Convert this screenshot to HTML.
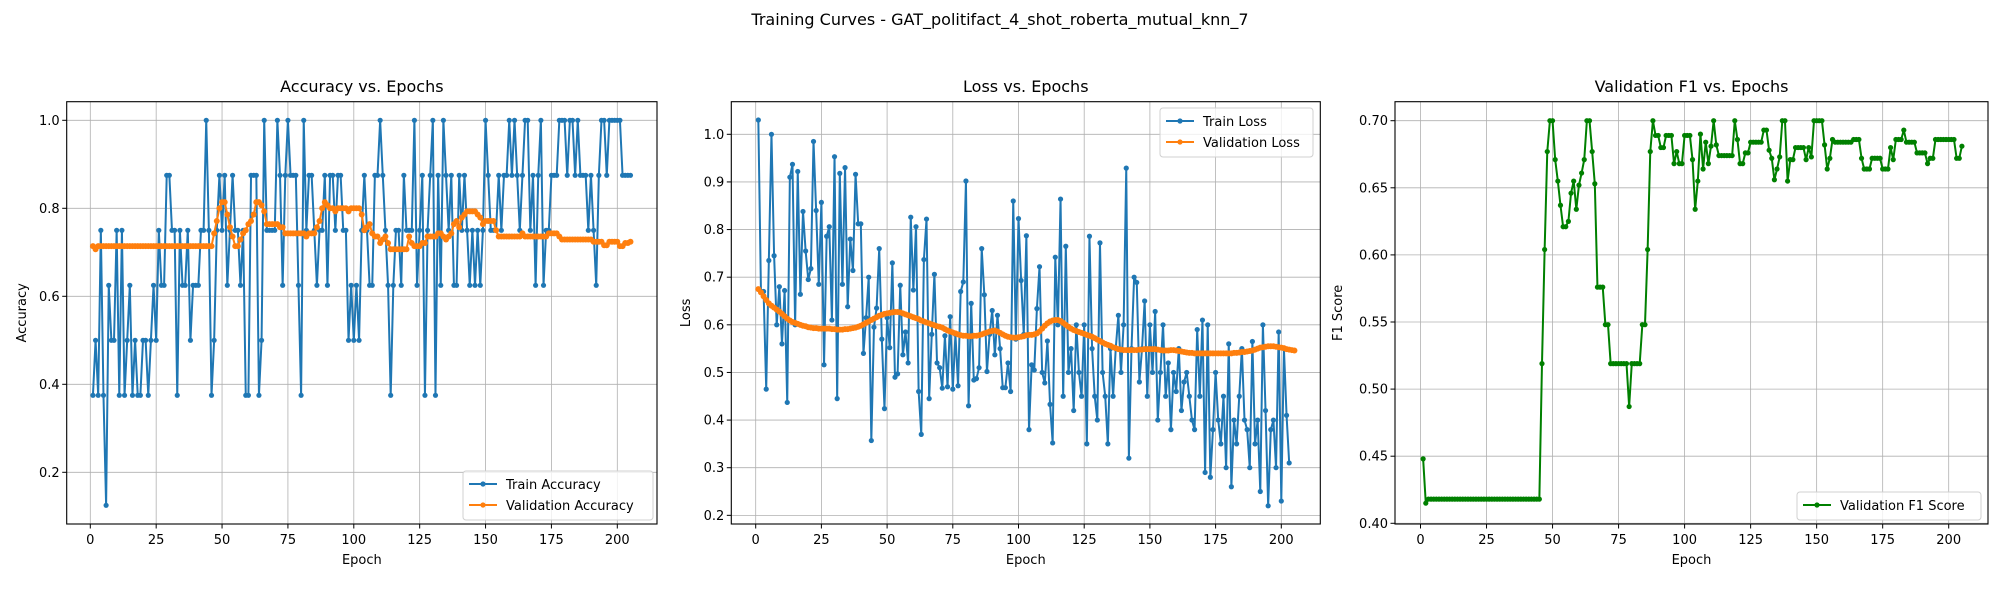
<!DOCTYPE html>
<html><head><meta charset="utf-8"><style>
html,body{margin:0;padding:0;background:#fff;}
svg{display:block;font-family:"DejaVu Sans","Liberation Sans",sans-serif;}
</style></head><body>
<svg id="fig" width="2000" height="600" viewBox="0 0 2000 600" xmlns="http://www.w3.org/2000/svg">
<rect width="2000" height="600" fill="#fff"/>
<text x="1000" y="25" font-size="16" text-anchor="middle">Training Curves - GAT_politifact_4_shot_roberta_mutual_knn_7</text>
</svg>
<script>
const trainAcc=[.375,.5,.375,.75,.375,.125,.625,.5,.5,.75,.375,.75,.375,.5,.625,.375,.5,.375,.375,.5,.5,.375,.5,.625,.5,.75,.625,.625,.875,.875,.75,.75,.375,.75,.625,.625,.75,.5,.625,.625,.625,.75,.75,1.0,.75,.375,
.5,.75,.875,.75,.875,.625,.75,.875,.75,.75,.625,.75,.375,.375,.875,.875,.875,.375,.5,1.0,.75,.75,.75,.75,1.0,.875,.625,.875,1.0,.875,.875,.875,.625,.375,1.0,.75,.875,.875,.75,.625,.75,.75,.875,.625,.875,.875,.75,.875,.875,.75,.75,.5,.625,.5,.625,.5,
.75,.875,.75,.625,.625,.875,.875,1.0,.875,.75,.625,.375,.625,.75,.75,.625,.875,.75,.75,.75,1.0,.625,.75,.875,.375,.75,.875,1.0,.375,.875,.625,1.0,.875,.75,.875,.625,.625,.875,.75,.875,.75,.625,.75,.625,.75,.625,.75,1.0,.875,.75,.75,.75,.875,.75,.875,.875,1.0,.875,1.0,.875,.75,.875,1.0,1.0,.75,.875,.625,.875,1.0,.625,.75,.75,.875,.875,.875,1.0,1.0,1.0,.875,1.0,1.0,.875,1.0,.875,.875,.875,.75,.875,.75,.625,.875,1.0,1.0,.875,1.0,1.0,1.0,1.0,1.0,.875,.875,.875,.875];
const valAcc=[.714,.707,.714,.714,.714,.714,.714,.714,.714,.714,.714,.714,.714,.714,.714,.714,.714,.714,.714,.714,.714,.714,.714,.714,.714,.714,.714,.714,.714,.714,.714,.714,.714,.714,.714,.714,.714,.714,.714,.714,.714,.714,.714,.714,.714,.714,
.743,.771,.80,.814,.814,.786,.757,.736,.714,.714,.729,.743,.75,.764,.771,.786,.814,.814,.807,.793,.764,.764,.764,.764,.764,.757,.757,.743,.743,.743,.743,.743,.743,.743,.743,.736,.743,.743,.743,.757,.771,.80,.814,.807,.80,.80,.793,.80,.80,.80,.80,.793,.80,.80,.80,.80,
.786,.75,.757,.764,.743,.736,.736,.721,.729,.736,.721,.707,.707,.707,.707,.707,.707,.707,.736,.721,.714,.714,.714,.721,.721,.736,.736,.736,.736,.743,.743,.736,.729,.736,.743,.764,.771,.757,.779,.786,.793,.793,.793,.793,.786,.779,.764,.771,.771,.771,.771,.75,.736,.736,.736,.736,.736,.736,.736,.736,.736,.743,.736,.736,.736,.736,.736,.736,.736,.736,.736,.743,.743,.743,.743,.736,.729,.729,.729,.729,.729,.729,.729,.729,.729,.729,.729,.729,.724,.724,.724,.724,.716,.716,.724,.724,.724,.724,.714,.714,.721,.721,.724];
const trainLoss=[1.03,.67,.67,.465,.735,1.0,.745,.60,.68,.56,.672,.437,.91,.937,.60,.922,.664,.838,.755,.695,.718,.985,.84,.685,.857,.516,.786,.806,.61,.953,.445,.918,.685,.93,.638,.78,.714,.916,.812,.812,
.54,.615,.70,.357,.595,.635,.76,.57,.424,.615,.552,.73,.49,.497,.683,.537,.585,.52,.826,.673,.806,.46,.37,.737,.822,.445,.58,.706,.52,.51,.467,.577,.47,.617,.465,.58,.472,.67,.69,.902,
.43,.645,.484,.487,.51,.76,.663,.502,.58,.63,.537,.62,.55,.468,.468,.52,.46,.86,.57,.823,.693,.58,.787,.38,.516,.505,.634,.722,.50,.478,.566,.433,.352,.742,
.60,.864,.45,.765,.50,.55,.42,.60,.50,.45,.60,.35,.786,.55,.45,.40,.772,.50,.45,.35,.55,.45,.55,.62,.50,.60,.929,.32,.55,.70,.689,.48,.55,.65,.45,.60,.50,.628,.40,.50,.60,.45,.52,.38,.50,.46,.55,.42,.48,.50,.45,.40,.38,.59,.45,.61,.29,.60,.28,.38,.50,.40,.35,.45,.30,.56,.26,.40,.35,.45,.55,.40,.38,.30,.565,.35,.40,.25,.60,.42,.22,.38,.40,.30,.585,.23,.55,.41,.31];
const valLoss=[.675,.668,.660,.652,.645,.640,.636,.632,.628,.623,.618,.613,.609,.606,.604,.602,.600,.598,.597,.595,.594,.593,.593,.592,.592,.592,.592,.592,.591,.591,.590,.590,.590,.591,.591,.592,.593,.594,.596,.598,
.601,.604,.607,.610,.613,.616,.619,.621,.623,.624,.625,.626,.627,.627,.626,.624,.622,.620,.618,.616,.614,.612,.609,.607,.605,.603,.601,.599,.597,.596,.594,.591,.588,.586,.584,.582,.580,.578,.577,.577,
.576,.576,.577,.577,.578,.580,.582,.584,.586,.587,.588,.586,.583,.580,.577,.575,.574,.573,.573,.574,.575,.576,.578,.579,.579,.580,.582,.586,.592,.598,.603,.607,.609,.610,.610,.608,.604,.600,.596,.592,
.589,.587,.585,.583,.581,.579,.577,.575,.572,.569,.566,.563,.560,.558,.556,.553,.551,.549,.548,.547,.547,.547,.547,.547,.547,.548,.548,.549,.549,.549,.549,.549,.548,.547,.546,.546,.546,.547,.547,.546,
.545,.544,.543,.542,.541,.541,.540,.540,.540,.540,.540,.540,.540,.540,.540,.540,.540,.540,.540,.540,.540,.541,.541,.542,.543,.543,.544,.545,.546,.548,.550,.552,.553,.554,.555,.555,.555,.554,.553,.552,.551,.549,.548,.547,.546];
const valF1=[.448,.415,.418,.418,.418,.418,.418,.418,.418,.418,.418,.418,.418,.418,.418,.418,.418,.418,.418,.418,.418,.418,.418,.418,.418,.418,.418,.418,.418,.418,.418,.418,.418,.418,.418,.418,.418,.418,.418,.418,.418,.418,.418,.418,.418,
.519,.604,.677,.70,.70,.671,.655,.637,.621,.621,.625,.646,.655,.634,.652,.661,.671,.70,.70,.677,.653,.576,.576,.576,.548,.548,.519,.519,.519,.519,.519,.519,.519,.487,.519,.519,.519,.519,.548,.548,.604,.677,.70,.689,.689,.68,.68,.689,.689,.689,.668,.677,.668,.668,.689,.689,.689,.671,.634,.655,.69,.664,.684,.668,.681,.70,.682,.674,.674,.674,.674,.674,.674,.70,.686,.668,.668,.676,.676,.684,.684,.684,.684,.684,.693,.693,.678,.672,.656,.664,.673,.70,.70,.655,.671,.671,.68,.68,.68,.68,.671,.68,.673,.70,.70,.70,.70,.682,.664,.672,.686,.684,.684,.684,.684,.684,.684,.684,.686,.686,.686,.672,.664,.664,.664,.672,.672,.672,.672,.664,.664,.664,.68,.671,.686,.686,.686,.693,.684,.684,.684,.684,.676,.676,.676,.676,.668,.672,.672,.686,.686,.686,.686,.686,.686,.686,.686,.672,.672,.681];
const accTicks=[0.2,0.4,0.6,0.8,1.0];
const lossTicks=[0.2,0.3,0.4,0.5,0.6,0.7,0.8,0.9,1.0];
const f1Ticks=[0.40,0.45,0.50,0.55,0.60,0.65,0.70];
const epochTicks=[0,25,50,75,100,125,150,175,200];

const NS='http://www.w3.org/2000/svg';
const svg=document.getElementById('fig');
function el(tag,attrs,parent){const e=document.createElementNS(NS,tag);for(const k in attrs)e.setAttribute(k,attrs[k]);(parent||svg).appendChild(e);return e;}

function panel(cfg){
  const g=el('g',{});
  
  
  const X=e=>cfg.x0+cfg.xs*e;
  const Y=v=>cfg.yRef+(cfg.vRef-v)*cfg.ys;
  // grid
  epochTicks.forEach(t=>{el('line',{x1:X(t),x2:X(t),y1:cfg.top,y2:cfg.bottom,stroke:'#b0b0b0','stroke-width':0.8},g);});
  cfg.yticks.forEach(t=>{el('line',{x1:cfg.left,x2:cfg.right,y1:Y(t),y2:Y(t),stroke:'#b0b0b0','stroke-width':0.8},g);});
  // series
  const clip='clip-'+cfg.name;
  const cp=el('clipPath',{id:clip},g);el('rect',{x:cfg.left,y:cfg.top,width:cfg.right-cfg.left,height:cfg.bottom-cfg.top},cp);
  cfg.series.forEach(s=>{
    const sg=el('g',{'clip-path':'url(#'+clip+')'},g);
    
    
    const pts=s.data.map((v,i)=>X(i+1).toFixed(2)+','+Y(v).toFixed(2)).join(' ');
    el('polyline',{points:pts,fill:'none',stroke:s.color,'stroke-width':2,'stroke-linejoin':'round'},sg);
    s.data.forEach((v,i)=>{el('circle',{cx:X(i+1),cy:Y(v),r:s.r||2.6,fill:s.color},sg);});
  });
  // frame
  el('rect',{x:cfg.left,y:cfg.top,width:cfg.right-cfg.left,height:cfg.bottom-cfg.top,fill:'none',stroke:'#000','stroke-width':1.1},g);
  // ticks
  epochTicks.forEach(t=>{
    el('line',{x1:X(t),x2:X(t),y1:cfg.bottom,y2:cfg.bottom+4.5,stroke:'#000','stroke-width':1},g);
    const tx=el('text',{x:X(t),y:cfg.bottom+20,'font-size':13,'text-anchor':'middle'},g);tx.textContent=t;
  });
  cfg.yticks.forEach(t=>{
    el('line',{x1:cfg.left-4.5,x2:cfg.left,y1:Y(t),y2:Y(t),stroke:'#000','stroke-width':1},g);
    const tx=el('text',{x:cfg.left-7,y:Y(t)+4.5,'font-size':13,'text-anchor':'end'},g);tx.textContent=t.toFixed(cfg.dec);
  });
  const xl=el('text',{x:(cfg.left+cfg.right)/2,y:cfg.bottom+40,'font-size':13,'text-anchor':'middle'},g);xl.textContent='Epoch';
  
  const yl=el('text',{x:cfg.ylx,y:(cfg.top+cfg.bottom)/2,'font-size':13,'text-anchor':'middle',transform:'rotate(-90 '+cfg.ylx+' '+(cfg.top+cfg.bottom)/2+')'},g);yl.textContent=cfg.ylabel;
  
  const ti=el('text',{x:(cfg.left+cfg.right)/2,y:92,'font-size':16,'text-anchor':'middle'},g);ti.textContent=cfg.title;
  
  // legend
  const L=cfg.legend;
  const lg=el('g',{},g);
  
  el('rect',{x:L.x,y:L.y,width:L.w,height:cfg.series.length*21+7,rx:3,fill:'#fff','fill-opacity':0.8,stroke:'#d0d0d0'},lg);
  cfg.series.forEach((s,i)=>{
    const ly=L.y+13+i*21;
    const eg=el('g',{},lg);
    
    el('line',{x1:L.x+6,x2:L.x+34,y1:ly,y2:ly,stroke:s.color,'stroke-width':2},eg);
    el('circle',{cx:L.x+20,cy:ly,r:2.6,fill:s.color},eg);
    const t=el('text',{x:L.x+43,y:ly+5,'font-size':13},eg);t.textContent=s.label;
  });
}

panel({name:'accuracy-panel',left:66.7,right:657,top:101.7,bottom:524,x0:90.3,xs:2.635,yRef:120.3,vRef:1.0,ys:440,
  yticks:accTicks,dec:1,ylabel:'Accuracy',ylx:26,title:'Accuracy vs. Epochs',
  legend:{x:463,y:471,w:190},
  series:[{name:'train-accuracy-line',label:'Train Accuracy',data:trainAcc,color:'#1f77b4'},
          {name:'validation-accuracy-line',label:'Validation Accuracy',data:valAcc,color:'#ff7f0e',r:3}]});
panel({name:'loss-panel',left:731.3,right:1320.3,top:101.7,bottom:524,x0:755.7,xs:2.628,yRef:134.3,vRef:1.0,ys:476.3,
  yticks:lossTicks,dec:1,ylabel:'Loss',ylx:690,title:'Loss vs. Epochs',
  legend:{x:1160,y:108,w:153},
  series:[{name:'train-loss-line',label:'Train Loss',data:trainLoss,color:'#1f77b4'},
          {name:'validation-loss-line',label:'Validation Loss',data:valLoss,color:'#ff7f0e',r:3}]});
panel({name:'f1-panel',left:1395,right:1988,top:101.7,bottom:524,x0:1420.5,xs:2.641,yRef:120.7,vRef:0.70,ys:1342,
  yticks:f1Ticks,dec:2,ylabel:'F1 Score',ylx:1342,title:'Validation F1 vs. Epochs',
  legend:{x:1797,y:492,w:184},
  series:[{name:'validation-f1-line',label:'Validation F1 Score',data:valF1,color:'#008000'}]});
</script>
</body></html>
